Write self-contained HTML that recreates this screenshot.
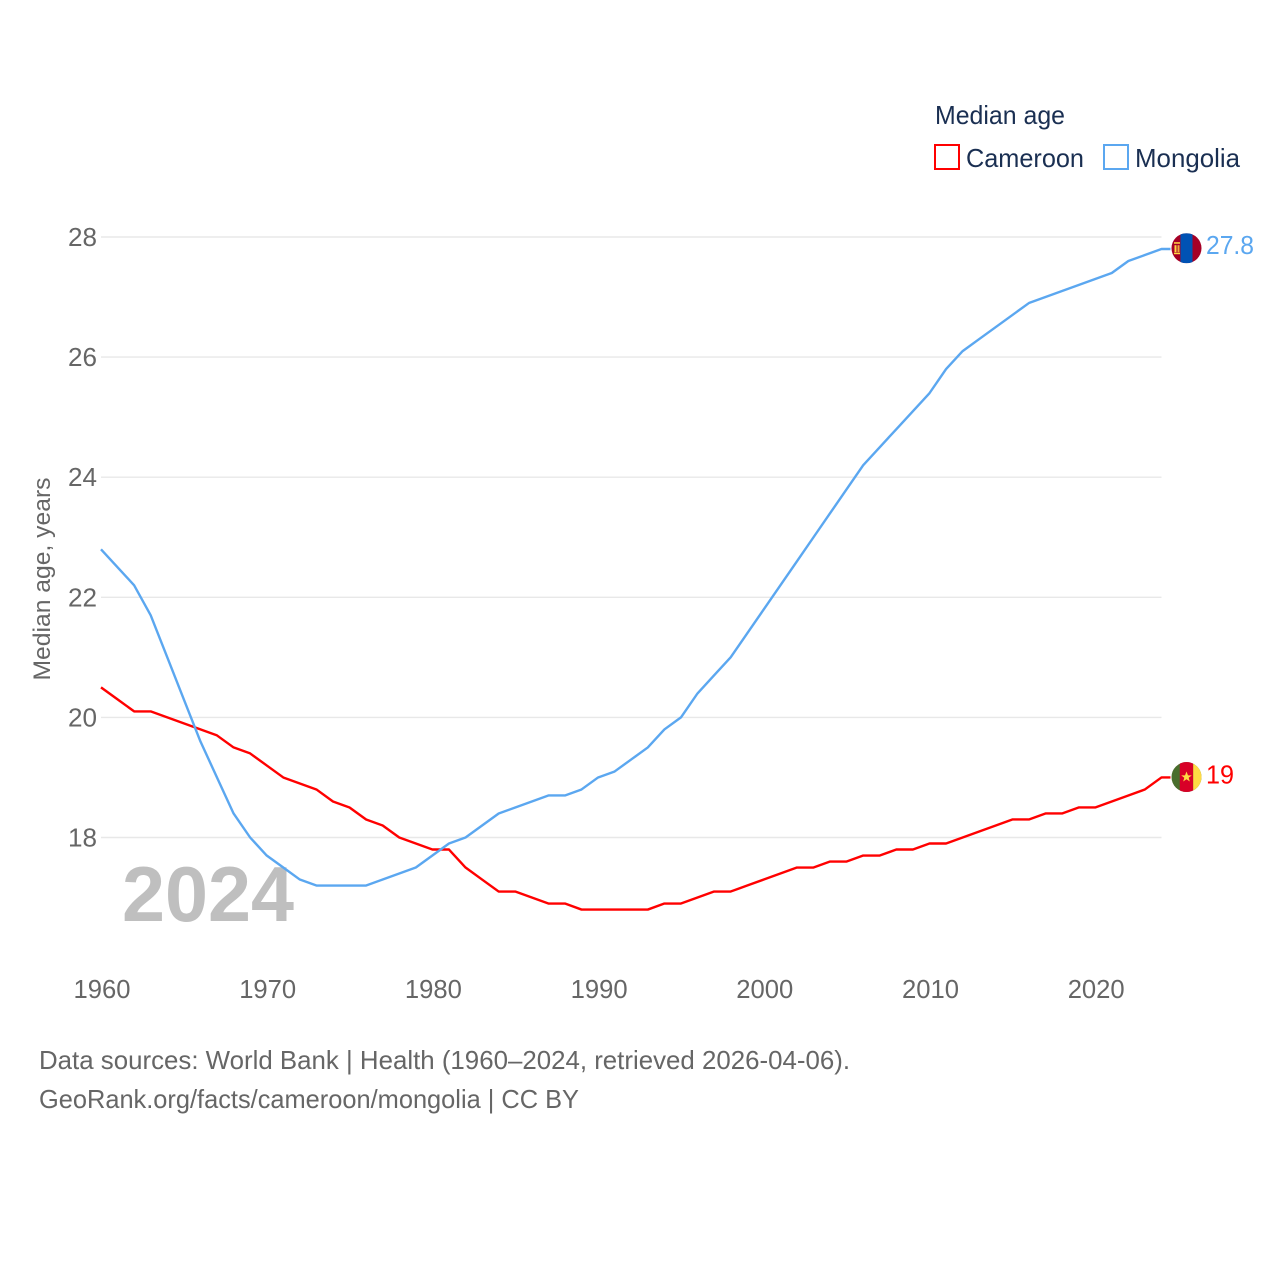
<!DOCTYPE html>
<html lang="en">
<head>
<meta charset="utf-8">
<title>Median age: Cameroon and Mongolia</title>
<style>
html,body{margin:0;padding:0;background:#fff;}
svg{display:block;}
text{font-family:"Liberation Sans",sans-serif;}
</style>
</head>
<body>
<svg id="chart" xmlns="http://www.w3.org/2000/svg" width="1280" height="1280" viewBox="0 0 1280 1280">
  <rect width="1280" height="1280" fill="#fff"/>
  <g id="grid"></g>
  <g id="ticks"></g>
  <text transform="translate(50,579) rotate(-90)" text-anchor="middle" font-size="24" fill="#666" textLength="203" lengthAdjust="spacingAndGlyphs">Median age, years</text>
  <text x="122" y="921" font-size="78" font-weight="700" fill="#bfbfbf" textLength="172" lengthAdjust="spacingAndGlyphs">2024</text>
  <g id="series"></g>
  <g id="flags">
    <defs>
      <clipPath id="mn-clip"><circle cx="0" cy="0" r="15"/></clipPath>
      <clipPath id="cm-clip"><circle cx="0" cy="0" r="15"/></clipPath>
    </defs>
    <g id="flag-mongolia" clip-path="url(#mn-clip)">
      <rect x="-15" y="-15" width="30" height="30" fill="#a50026"/>
      <rect x="-6" y="-15" width="12" height="30" fill="#0052b4"/>
      <rect x="-12" y="-3" width="2" height="7" fill="#ffda44"/>
      <rect x="-9" y="-3" width="2" height="7" fill="#ffda44" opacity="0.8"/>
      <rect x="-12.5" y="-6" width="6" height="1.5" fill="#ffda44"/>
      <rect x="-12.5" y="4.5" width="6" height="1.5" fill="#ffda44"/>
    </g>
    <g id="flag-cameroon" clip-path="url(#cm-clip)">
      <rect x="-15" y="-15" width="30" height="30" fill="#496e2d"/>
      <rect x="-6.7" y="-15" width="13.4" height="30" fill="#d80027"/>
      <rect x="6.7" y="-15" width="8.3" height="30" fill="#ffda44"/>
      <polygon points="0,-5.5 1.5,-1.7 5.3,-1.7 2.2,0.7 3.3,4.5 0,2.2 -3.3,4.5 -2.2,0.7 -5.3,-1.7 -1.5,-1.7" fill="#ffda44"/>
    </g>
  </g>
  <g id="end-labels"></g>

  <g>
    <text x="935" y="124" font-size="26" fill="#1a2f52" textLength="130" lengthAdjust="spacingAndGlyphs">Median age</text>
    <g>
      <rect x="935" y="145" width="24" height="24" fill="#fff" stroke="#ff0000" stroke-width="2"/>
      <text x="966" y="167" font-size="26" fill="#1a2f52" textLength="118" lengthAdjust="spacingAndGlyphs">Cameroon</text>
    </g>
    <g>
      <rect x="1104" y="145" width="24" height="24" fill="#fff" stroke="#5ba7f0" stroke-width="2"/>
      <text x="1135" y="167" font-size="26" fill="#1a2f52" textLength="105" lengthAdjust="spacingAndGlyphs">Mongolia</text>
    </g>
  </g>

  <text x="39" y="1069" font-size="26" fill="#666" textLength="811" lengthAdjust="spacingAndGlyphs">Data sources: World Bank | Health (1960–2024, retrieved 2026-04-06).</text>
  <text x="39" y="1108" font-size="26" fill="#666" textLength="540" lengthAdjust="spacingAndGlyphs">GeoRank.org/facts/cameroon/mongolia | CC BY</text>
</svg>
<script>
const years = [1960,1961,1962,1963,1964,1965,1966,1967,1968,1969,1970,1971,1972,1973,1974,1975,1976,1977,1978,1979,1980,1981,1982,1983,1984,1985,1986,1987,1988,1989,1990,1991,1992,1993,1994,1995,1996,1997,1998,1999,2000,2001,2002,2003,2004,2005,2006,2007,2008,2009,2010,2011,2012,2013,2014,2015,2016,2017,2018,2019,2020,2021,2022,2023,2024];
const mongolia = [22.8,22.5,22.2,21.7,21.0,20.3,19.6,19.0,18.4,18.0,17.7,17.5,17.3,17.2,17.2,17.2,17.2,17.3,17.4,17.5,17.7,17.9,18.0,18.2,18.4,18.5,18.6,18.7,18.7,18.8,19.0,19.1,19.3,19.5,19.8,20.0,20.4,20.7,21.0,21.4,21.8,22.2,22.6,23.0,23.4,23.8,24.2,24.5,24.8,25.1,25.4,25.8,26.1,26.3,26.5,26.7,26.9,27.0,27.1,27.2,27.3,27.4,27.6,27.7,27.8];
const cameroon = [20.5,20.3,20.1,20.1,20.0,19.9,19.8,19.7,19.5,19.4,19.2,19.0,18.9,18.8,18.6,18.5,18.3,18.2,18.0,17.9,17.8,17.8,17.5,17.3,17.1,17.1,17.0,16.9,16.9,16.8,16.8,16.8,16.8,16.8,16.9,16.9,17.0,17.1,17.1,17.2,17.3,17.4,17.5,17.5,17.6,17.6,17.7,17.7,17.8,17.8,17.9,17.9,18.0,18.1,18.2,18.3,18.3,18.4,18.4,18.5,18.5,18.6,18.7,18.8,19.0];
const yTickLabels = [18,20,22,24,26,28];
const xTickLabels = [1960,1970,1980,1990,2000,2010,2020];

const NS = 'http://www.w3.org/2000/svg';
const xScale = function (year) { return 101 + (year - 1960) * 16.57; };
const yScale = function (value) { return 837.5 - (value - 18) * 60.05; };
const FLAG_X = 1186.5;
const COLOR_CAMEROON = '#ff0000';
const COLOR_MONGOLIA = '#5ba7f0';

const gridGroup = document.getElementById('grid');
const tickGroup = document.getElementById('ticks');
const seriesGroup = document.getElementById('series');
const labelGroup = document.getElementById('end-labels');

yTickLabels.forEach(function (t) {
  const line = document.createElementNS(NS, 'line');
  
  
  line.setAttribute('x1', xScale(1960));
  line.setAttribute('x2', xScale(2024));
  line.setAttribute('y1', yScale(t));
  line.setAttribute('y2', yScale(t));
  line.setAttribute('stroke', '#e8e8e8');
  line.setAttribute('stroke-width', '1.4');
  gridGroup.appendChild(line);

  const label = document.createElementNS(NS, 'text');
  
  
  label.setAttribute('x', 68);
  label.setAttribute('y', yScale(t) + 9);
  label.setAttribute('font-size', '26');
  label.setAttribute('fill', '#666');
  label.setAttribute('textLength', '29');
  label.setAttribute('lengthAdjust', 'spacingAndGlyphs');
  label.textContent = String(t);
  tickGroup.appendChild(label);
});

xTickLabels.forEach(function (t) {
  const label = document.createElementNS(NS, 'text');
  
  
  label.setAttribute('x', xScale(t) + 1);
  label.setAttribute('y', 998);
  label.setAttribute('text-anchor', 'middle');
  label.setAttribute('font-size', '26');
  label.setAttribute('fill', '#666');
  label.setAttribute('textLength', '57');
  label.setAttribute('lengthAdjust', 'spacingAndGlyphs');
  label.textContent = String(t);
  tickGroup.appendChild(label);
});

function drawSeries(values, color) {
  const pts = values.map(function (v, i) { return xScale(years[i]) + ',' + yScale(v); });
  const last = values[values.length - 1];
  pts.push((FLAG_X - 16) + ',' + yScale(last));
  const poly = document.createElementNS(NS, 'polyline');
  poly.setAttribute('points', pts.join(' '));
  poly.setAttribute('fill', 'none');
  poly.setAttribute('stroke', color);
  poly.setAttribute('stroke-width', '2.4');
  poly.setAttribute('stroke-linejoin', 'round');
  return poly;
}

const lineCameroon = drawSeries(cameroon, COLOR_CAMEROON);


seriesGroup.appendChild(lineCameroon);

const lineMongolia = drawSeries(mongolia, COLOR_MONGOLIA);


seriesGroup.appendChild(lineMongolia);

const lastMongolia = mongolia[mongolia.length - 1];
const lastCameroon = cameroon[cameroon.length - 1];

document.getElementById('flag-mongolia').setAttribute('transform', 'translate(' + FLAG_X + ',' + (yScale(lastMongolia) - 0.8) + ')');
document.getElementById('flag-cameroon').setAttribute('transform', 'translate(' + FLAG_X + ',' + (yScale(lastCameroon) - 0.4) + ')');

function drawEndLabel(value, color, width, dy) {
  const label = document.createElementNS(NS, 'text');
  label.setAttribute('x', 1206);
  label.setAttribute('y', yScale(value) + dy);
  label.setAttribute('font-size', '26');
  label.setAttribute('fill', color);
  label.setAttribute('textLength', width);
  label.setAttribute('lengthAdjust', 'spacingAndGlyphs');
  label.textContent = String(value);
  return label;
}

const endMongolia = drawEndLabel(lastMongolia, COLOR_MONGOLIA, 48, 5);


labelGroup.appendChild(endMongolia);

const endCameroon = drawEndLabel(lastCameroon, COLOR_CAMEROON, 28, 6);


labelGroup.appendChild(endCameroon);
</script>
</body>
</html>
